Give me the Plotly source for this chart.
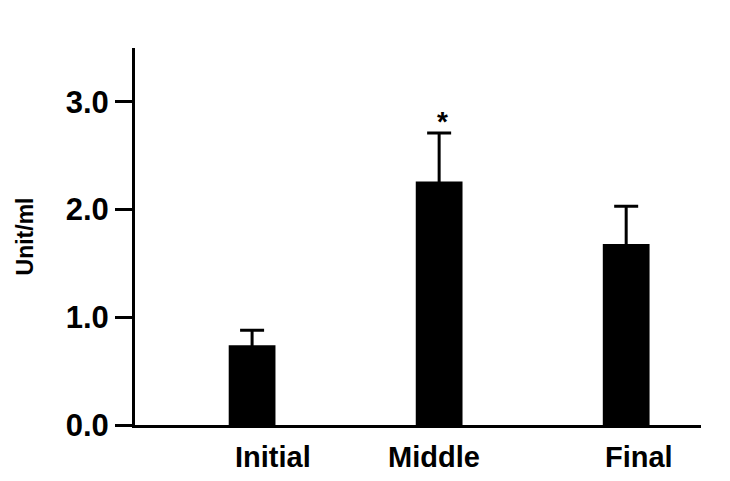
import plotly.graph_objects as go

categories = ["Initial", "Middle", "Final"]
means = [0.74, 2.26, 1.68]
errors = [0.14, 0.45, 0.35]
significance = ["", "*", ""]
y_ticks = [0.0, 1.0, 2.0, 3.0]

label_shift_px = [21, -5, 13]

positions = list(range(len(categories)))
FONT = "Liberation Sans, Arial, sans-serif"

fig = go.Figure()
fig.add_trace(go.Bar(
    x=positions, y=means, width=0.25,
    marker=dict(color="black", line=dict(width=0)),
    error_y=dict(type="data", array=errors, symmetric=True,
                 color="black", thickness=3, width=12),
    showlegend=False,
))

for p, lab, s in zip(positions, categories, label_shift_px):
    fig.add_annotation(x=p, y=0, xref="x", yref="paper", text=lab, showarrow=False,
                       xanchor="center", yanchor="middle", xshift=s, yshift=-32,
                       font=dict(family=FONT, size=29, color="black", weight="bold"))

for p, m, e, sig in zip(positions, means, errors, significance):
    if sig:
        fig.add_annotation(x=p, y=m + e, text=sig, showarrow=False, xshift=3,
                           yanchor="bottom", yshift=-6,
                           font=dict(family=FONT, size=28, color="black", weight="bold"))

fig.update_layout(
    width=730, height=481,
    margin=dict(l=135, r=29, t=48, b=56),
    paper_bgcolor="white", plot_bgcolor="white",
    font=dict(family=FONT, color="black"),
    xaxis=dict(range=[-0.626, 2.40], showticklabels=False, ticks="",
               showline=True, linecolor="black", linewidth=3,
               showgrid=False, zeroline=False),
    yaxis=dict(range=[0, 3.5], tickvals=y_ticks, tickformat=".1f",
               ticks="outside", ticklen=17, tickwidth=3, tickcolor="black",
               showline=True, linecolor="black", linewidth=3,
               showgrid=False, zeroline=False,
               tickfont=dict(family=FONT, size=31, color="black", weight="bold"),
               title=dict(text="Unit/ml", standoff=26,
                          font=dict(family=FONT, size=23, color="black", weight="bold"))),
)

fig.write_html("out.html", config={"displayModeBar": False},
               post_script="document.body.style.margin='0';document.body.style.overflow='hidden';")
